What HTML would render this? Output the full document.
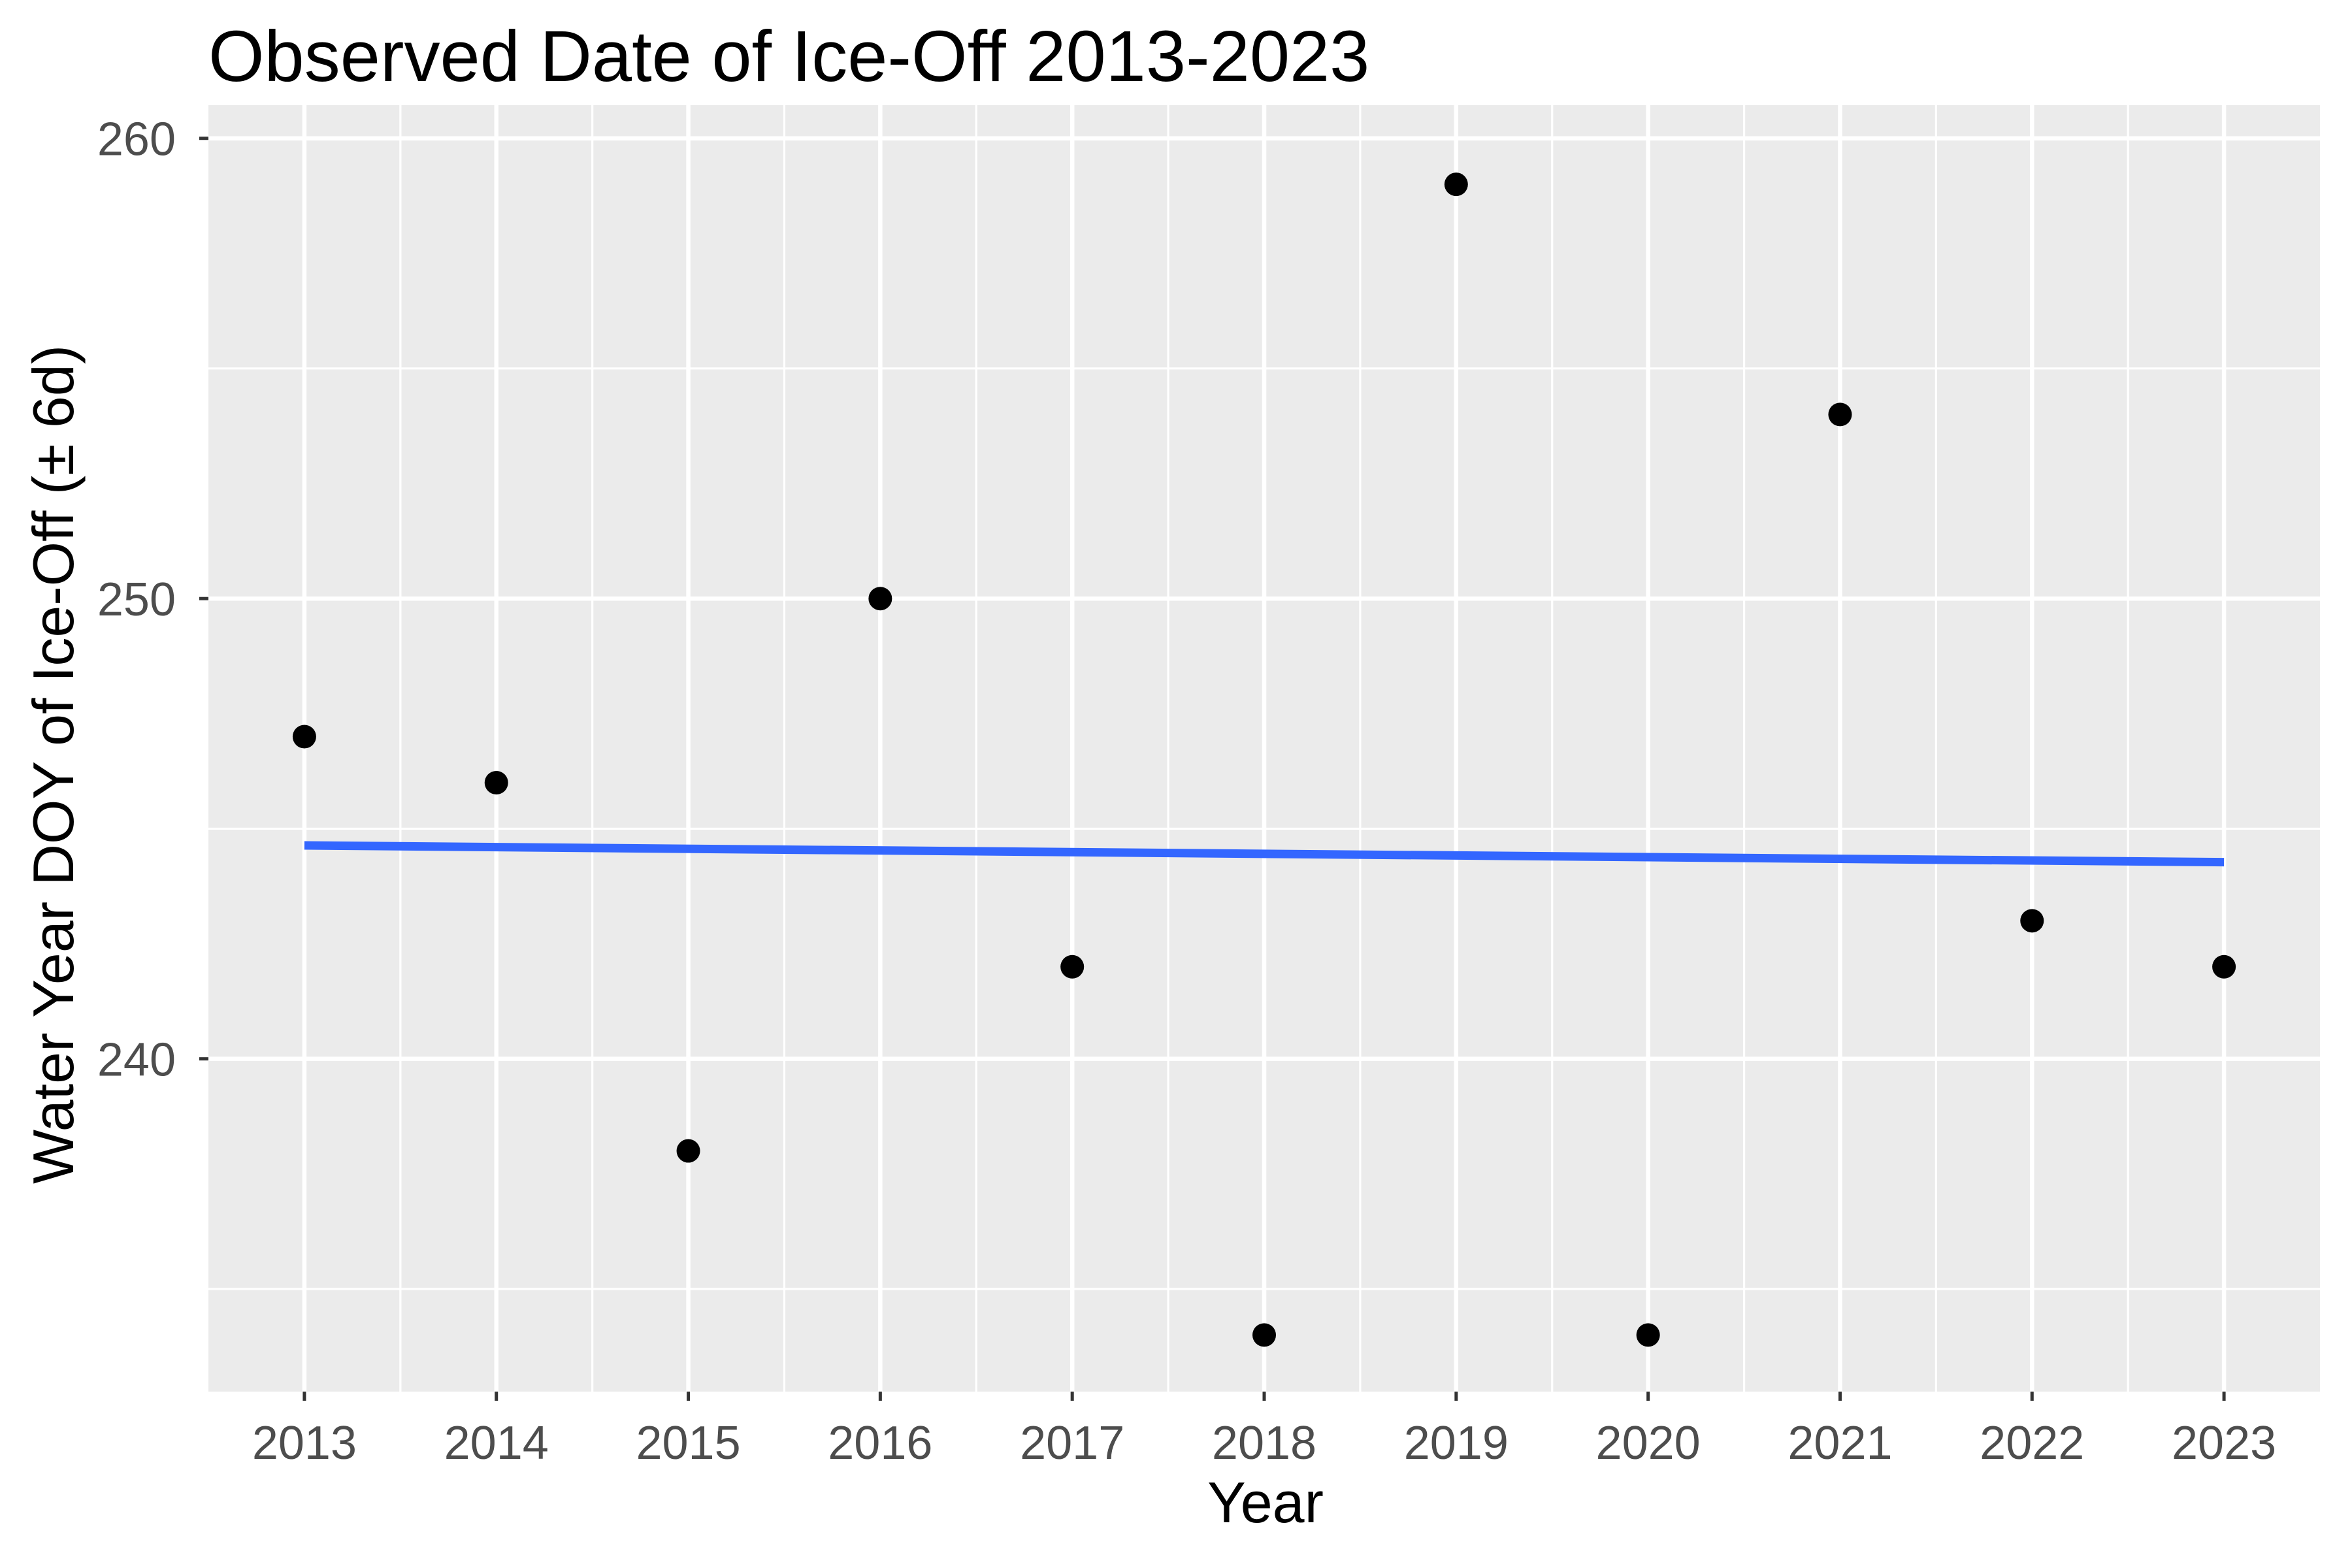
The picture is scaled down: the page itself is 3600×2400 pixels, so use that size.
<!DOCTYPE html>
<html><head><meta charset="utf-8"><style>
html,body{margin:0;padding:0;background:#fff;}
svg{display:block;font-family:"Liberation Sans",Arial,sans-serif;}
</style></head><body>
<svg id="chart" width="3600" height="2400" viewBox="0 0 3600 2400" xmlns="http://www.w3.org/2000/svg">
<rect width="3600" height="2400" fill="#fff"/>
<text x="319" y="124" font-size="110" fill="#000">Observed Date of Ice-Off 2013-2023</text>
<rect x="319" y="161" width="3232" height="1969" fill="#EBEBEB"/>
<g id="grid"></g>
<g id="marks"></g>
<g id="axes"></g>
<text x="1937" y="2330" font-size="88" text-anchor="middle" fill="#000">Year</text>
<text transform="translate(112,1170) rotate(-90)" font-size="88" text-anchor="middle" fill="#000">Water Year DOY of Ice-Off (± 6d)</text>
</svg>
<script>
const years = [2013,2014,2015,2016,2017,2018,2019,2020,2021,2022,2023];
const doy = [247,246,238,250,242,234,259,234,254,243,242];
const yTicks = [240,250,260];
const yMinor = [235,245,255];

const NS='http://www.w3.org/2000/svg';
const L=319,R=3551,T=161,B=2130;
const xMin=2012.5,xMax=2023.5,yMin=232.77,yMax=260.72;
function xs(v){return L+(v-xMin)/(xMax-xMin)*(R-L);}
function ys(v){return B-(v-yMin)/(yMax-yMin)*(B-T);}
function mk(tag,attrs,parent){const e=document.createElementNS(NS,tag);for(const k in attrs)e.setAttribute(k,attrs[k]);document.getElementById(parent).appendChild(e);return e;}

yMinor.forEach(v=>{const e=mk('line',{x1:L,x2:R,y1:ys(v),y2:ys(v),stroke:'#fff','stroke-width':3.2},'grid');

});
for(let i=0;i<years.length-1;i++){const v=years[i]+0.5;const e=mk('line',{x1:xs(v),x2:xs(v),y1:T,y2:B,stroke:'#fff','stroke-width':3.2},'grid');

}
yTicks.forEach(v=>{const e=mk('line',{x1:L,x2:R,y1:ys(v),y2:ys(v),stroke:'#fff','stroke-width':6.5},'grid');

});
years.forEach(v=>{const e=mk('line',{x1:xs(v),x2:xs(v),y1:T,y2:B,stroke:'#fff','stroke-width':6.5},'grid');

});

const n=years.length;const mx=years.reduce((a,b)=>a+b)/n;const my=doy.reduce((a,b)=>a+b)/n;
let sxy=0,sxx=0;for(let i=0;i<n;i++){sxy+=(years[i]-mx)*(doy[i]-my);sxx+=(years[i]-mx)**2;}
const slope=sxy/sxx,ic=my-slope*mx;
const x0=years[0],x1=years[n-1];
const tl=mk('line',{x1:xs(x0),x2:xs(x1),y1:ys(ic+slope*x0),y2:ys(ic+slope*x1),stroke:'#3366FF','stroke-width':13},'marks');



years.forEach((yr,i)=>{const c=mk('circle',{cx:xs(yr),cy:ys(doy[i]),r:18,fill:'#000'},'marks');

});

yTicks.forEach(v=>{const t=mk('line',{x1:L-14,x2:L,y1:ys(v),y2:ys(v),stroke:'#333','stroke-width':5},'axes');


const lb=mk('text',{x:L-50,y:ys(v)+26,'font-size':72,'text-anchor':'end',fill:'#4D4D4D'},'axes');lb.textContent=v;

});
years.forEach(v=>{const t=mk('line',{x1:xs(v),x2:xs(v),y1:B,y2:B+14,stroke:'#333','stroke-width':5},'axes');


const lb=mk('text',{x:xs(v),y:B+103,'font-size':72,'text-anchor':'middle',fill:'#4D4D4D'},'axes');lb.textContent=v;

});
</script>
</body></html>
